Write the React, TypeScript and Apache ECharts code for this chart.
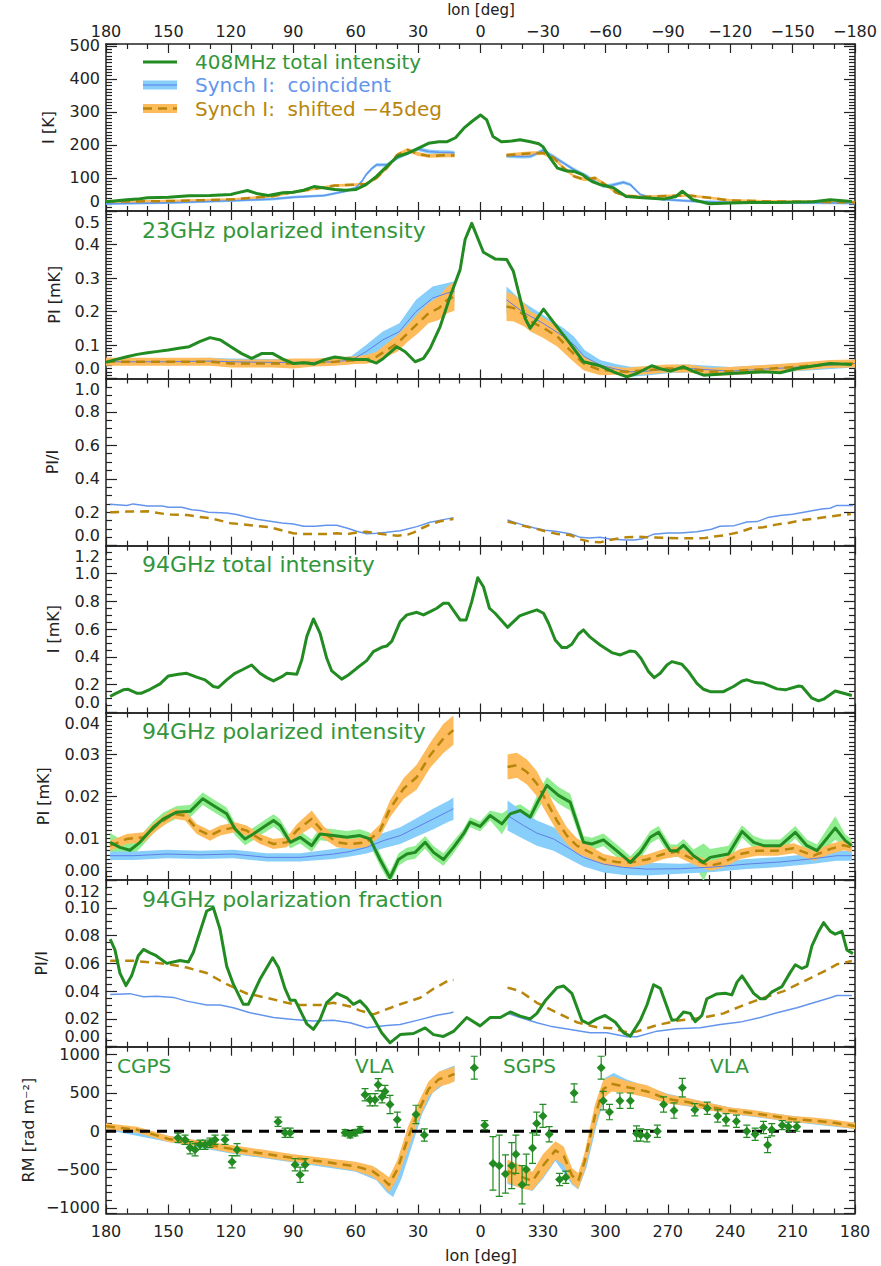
import React, { useEffect, useRef } from "react";
import * as echarts from "echarts";

// ---------------- DATA ----------------
// Panel 1: 408 MHz total intensity [K]
const p1Green = [[180,28],[175,31],[170,34],[165,36],[160,40],[150,42],[140,46],[130,47],[120,50],[117,55],[112,62],[107,52],[102,47],[95,55],[90,57],[85,63],[80,74],[75,70],[70,65],[65,63],[60,65],[55,80],[50,105],[45,135],[40,165],[35,175],[30,190],[25,205],[20,210],[16,210],[12,222],[8,251],[4,272],[0,291],[-3,276],[-6,226],[-10,210],[-15,212],[-19,216],[-24,210],[-28,204],[-30,195],[-33,165],[-37,130],[-41,122],[-45,120],[-49,110],[-51,100],[-54,88],[-57.5,80],[-61,75],[-64,70],[-70,44],[-78,40],[-88,36],[-94,44],[-97,60],[-102,34],[-106,28],[-110,22],[-120,24],[-130,26],[-144,26],[-160,28],[-168,34],[-178.5,29]];
const p1BlueL = [[180,22,4],[150,25,4],[120,31,4],[100,36,4],[90,42,4],[75,47,4],[65,60,4],[60,70,5],[57,90,5],[55,110,5],[52,130,5],[50,140,5],[45,140,5],[40,160,5],[35,175,5],[30,188,6],[25,180,6],[20,178,6],[15,177,6],[12.5,176,6]];
const p1BlueR = [[-12.5,167,6],[-20,165,6],[-24,166,6],[-30,183,6],[-35,165,6],[-40,145,5],[-45,125,5],[-51,106,5],[-55,90,5],[-59,75,5],[-63,78,5],[-68.7,87,5],[-72,80,5],[-76.8,50,4],[-82,40,4],[-88,35,4],[-104,29,4],[-120,26,4],[-150,25,4],[-180,24,4]];
const p1OrangeL = [[180,28,4],[150,30,4],[120,35,4],[100,45,4],[90,57,4],[80,67,4],[70,77,4],[60,80,4],[55,82,4],[50,100,5],[45,130,5],[40,170,6],[35,185,6],[30,173,6],[25,167,6],[20,168,6],[15,169,6],[12.5,168,6]];
const p1OrangeR = [[-12.5,169,6],[-23,174,6],[-30,176,6],[-35,162,6],[-40,130,5],[-45,105,5],[-50,95,5],[-55,100,5],[-60,80,5],[-65,56,4],[-70,46,4],[-80,43,4],[-90,46,4],[-100,47,4],[-110,40,4],[-120,32,4],[-140,29,4],[-160,28,4],[-180,26,4]];

// Panel 2: 23 GHz polarized intensity [mK]
const p2Green = [[180,0.048],[175,0.057],[170,0.065],[165,0.072],[160,0.077],[155,0.081],[150,0.085],[145,0.09],[140,0.095],[135,0.11],[130,0.122],[125,0.115],[120,0.095],[115,0.075],[110,0.06],[105,0.075],[100,0.075],[95,0.058],[90,0.045],[85,0.047],[80,0.043],[75,0.056],[70,0.064],[65,0.06],[60,0.057],[55,0.057],[50,0.046],[46.7,0.06],[40.2,0.095],[36.2,0.08],[31.4,0.05],[27.4,0.06],[24.2,0.09],[19.4,0.155],[14.6,0.245],[9.8,0.325],[7.4,0.415],[4.2,0.463],[-1.4,0.377],[-7,0.357],[-12.6,0.355],[-15.8,0.32],[-21.4,0.18],[-23.9,0.15],[-30.3,0.207],[-36.7,0.155],[-43,0.105],[-49.5,0.05],[-57.5,0.038],[-63.9,0.02],[-70.3,0.005],[-75.1,0.015],[-82.3,0.038],[-86,0.03],[-91.2,0.022],[-97.6,0.035],[-102,0.022],[-107.2,0.01],[-120,0.015],[-136,0.02],[-144,0.017],[-152,0.03],[-168,0.045],[-178.5,0.042]];
const p2BlueL = [[180,0.05,0.01],[150,0.05,0.01],[130,0.052,0.01],[120,0.05,0.01],[100,0.048,0.01],[80,0.048,0.01],[70,0.05,0.01],[62,0.055,0.012],[55,0.08,0.02],[47,0.115,0.025],[39,0.14,0.025],[31,0.2,0.035],[23,0.24,0.035],[16,0.255,0.03],[12.5,0.26,0.03]];
const p2BlueR = [[-12.5,0.235,0.04],[-20,0.2,0.03],[-30,0.165,0.025],[-40,0.125,0.025],[-45,0.1,0.025],[-50,0.065,0.02],[-57.5,0.04,0.015],[-65,0.028,0.015],[-72,0.02,0.015],[-80,0.022,0.013],[-90,0.028,0.012],[-100,0.03,0.012],[-120,0.022,0.012],[-150,0.033,0.012],[-180,0.045,0.012]];
const p2OrangeL = [[180,0.05,0.012],[160,0.05,0.012],[140,0.05,0.012],[130,0.05,0.012],[120,0.045,0.012],[100,0.045,0.012],[90,0.045,0.015],[80,0.048,0.012],[70,0.05,0.012],[60,0.055,0.012],[55,0.057,0.013],[50,0.065,0.015],[45,0.085,0.02],[40,0.105,0.025],[35,0.135,0.025],[30,0.165,0.03],[25,0.195,0.03],[20,0.21,0.035],[16,0.235,0.04],[12.5,0.245,0.043]];
const p2OrangeR = [[-12.5,0.215,0.043],[-16,0.21,0.04],[-21,0.19,0.035],[-24,0.17,0.03],[-30,0.152,0.03],[-37,0.125,0.03],[-43,0.085,0.025],[-49.5,0.045,0.02],[-57.5,0.025,0.015],[-64,0.023,0.012],[-70,0.02,0.012],[-80,0.025,0.012],[-90,0.03,0.012],[-100,0.03,0.012],[-110,0.02,0.012],[-120,0.022,0.012],[-136,0.028,0.012],[-152,0.035,0.012],[-168,0.043,0.012],[-180,0.045,0.012]];

// Panel 3: 23 GHz PI/I
const p3BlueL = [[178,0.248],[170,0.24],[167,0.25],[160,0.237],[153,0.237],[150,0.23],[143.6,0.23],[138.8,0.215],[134.8,0.21],[130.8,0.2],[122,0.196],[117.2,0.186],[112.4,0.172],[106.8,0.156],[101.1,0.146],[95.5,0.136],[89.9,0.13],[85.1,0.116],[79.5,0.116],[73.9,0.122],[69.1,0.122],[64.3,0.106],[59.5,0.086],[54.7,0.072],[49.9,0.074],[45.1,0.08],[38.6,0.09],[30.6,0.114],[24.2,0.14],[17.8,0.156],[13,0.168]];
const p3BlueR = [[-13,0.154],[-16,0.14],[-20,0.126],[-26,0.106],[-31,0.092],[-36,0.086],[-43,0.072],[-48,0.05],[-52,0.046],[-57.5,0.05],[-62,0.04],[-70,0.034],[-74,0.034],[-78,0.042],[-83,0.068],[-90,0.076],[-96,0.076],[-104,0.084],[-111,0.098],[-115,0.116],[-122,0.12],[-128,0.142],[-133,0.144],[-138,0.168],[-144,0.18],[-150,0.188],[-158,0.206],[-164,0.22],[-168,0.224],[-171,0.24],[-179,0.24]];
const p3OrangeL = [[178,0.2],[170,0.204],[160,0.206],[152,0.19],[149,0.186],[141,0.184],[136,0.174],[130,0.164],[125,0.15],[120,0.134],[116,0.13],[106,0.116],[101,0.11],[95,0.09],[90,0.074],[85,0.07],[80,0.07],[74,0.07],[69,0.074],[64,0.07],[59,0.08],[55,0.084],[50,0.074],[45,0.066],[40,0.06],[35,0.066],[32,0.08],[28,0.106],[23.4,0.13],[19.4,0.146],[13,0.16]];
const p3OrangeR = [[-13,0.144],[-16,0.136],[-20,0.12],[-26,0.104],[-31,0.086],[-37,0.07],[-43,0.064],[-48,0.038],[-52,0.026],[-57.5,0.02],[-62,0.034],[-70,0.05],[-75,0.054],[-80,0.05],[-90,0.046],[-100,0.044],[-108,0.046],[-112,0.054],[-118,0.064],[-124,0.08],[-130,0.104],[-136,0.11],[-142,0.126],[-148,0.136],[-155,0.154],[-162,0.164],[-170,0.178],[-178,0.19]];

// Panel 4: 94 GHz total intensity [mK]
const p4Green = [[178,0.115],[175.7,0.134],[171.7,0.163],[169.3,0.167],[165.3,0.139],[162.9,0.139],[158.8,0.167],[154,0.206],[150,0.263],[145.2,0.275],[141.2,0.282],[136.4,0.254],[132.4,0.235],[128.4,0.187],[126,0.18],[122,0.235],[118,0.282],[114,0.311],[110,0.342],[106,0.282],[102.7,0.251],[99.5,0.227],[95.5,0.258],[93.1,0.282],[88.3,0.275],[85.9,0.378],[83.5,0.546],[80.3,0.673],[77.1,0.57],[73.9,0.39],[71.5,0.299],[66.7,0.24],[63.5,0.27],[59.5,0.318],[54.7,0.373],[51.5,0.438],[47.5,0.469],[45.1,0.478],[42.6,0.514],[38.6,0.654],[35.4,0.702],[30.6,0.721],[27.4,0.702],[24.2,0.726],[21,0.75],[17.8,0.786],[15.4,0.786],[9.8,0.666],[6.9,0.666],[4.2,0.798],[1.3,0.97],[-1.4,0.905],[-4.3,0.75],[-7,0.714],[-13,0.613],[-18.8,0.695],[-23.1,0.719],[-27.1,0.738],[-30.3,0.714],[-32.7,0.642],[-35.9,0.522],[-39.1,0.467],[-41.5,0.467],[-43.9,0.491],[-47.1,0.565],[-49.5,0.594],[-52.7,0.542],[-57.5,0.486],[-63.1,0.431],[-67.2,0.414],[-72,0.443],[-74.4,0.438],[-77.1,0.39],[-80.8,0.294],[-83.5,0.251],[-86.4,0.282],[-89.6,0.342],[-92,0.366],[-96.8,0.347],[-100,0.294],[-104,0.21],[-107.2,0.167],[-110.4,0.15],[-116.8,0.15],[-121.6,0.187],[-125.7,0.227],[-128.1,0.235],[-132.1,0.215],[-136.1,0.21],[-142.5,0.17],[-146.5,0.163],[-152.9,0.191],[-154.5,0.187],[-159.3,0.103],[-162.5,0.084],[-164.9,0.096],[-170.5,0.155],[-174.5,0.139],[-178.5,0.122]];

// Panel 5: 94 GHz polarized intensity [mK]  (lon, value, half-width)
const p5Green = [[178,0.009,0.0022],[173.3,0.0078,0.002],[168.5,0.0071,0.0018],[163.7,0.009,0.0015],[157.2,0.0126,0.0015],[152.4,0.0146,0.0015],[146,0.0162,0.0015],[139.6,0.0164,0.0015],[133.5,0.0194,0.0015],[128.4,0.0178,0.0015],[122,0.0158,0.0015],[118,0.0122,0.0015],[113.2,0.0098,0.0015],[109.2,0.011,0.0015],[104.4,0.0126,0.0015],[99.5,0.0142,0.0015],[96.3,0.013,0.0015],[91.5,0.009,0.0015],[86.7,0.0102,0.0015],[81.1,0.0082,0.0015],[77.1,0.011,0.0015],[70.7,0.0106,0.0015],[64.3,0.0102,0.0015],[57.9,0.0106,0.0015],[53.1,0.0098,0.0015],[48.3,0.0049,0.0015],[43.5,0.0005,0.0015],[39.4,0.0049,0.0015],[35.4,0.0062,0.0015],[31.4,0.0066,0.0015],[26.6,0.009,0.0015],[22.6,0.0066,0.0015],[17.8,0.0049,0.0015],[13,0.0078,0.0015],[8.2,0.011,0.0012],[5,0.0138,0.0012],[0.2,0.0128,0.0012],[-4.6,0.0154,0.0012],[-10.3,0.0134,0.0025],[-14.3,0.0158,0.0015],[-19.1,0.0166,0.0015],[-23.9,0.015,0.0015],[-27.9,0.019,0.002],[-31.9,0.0226,0.002],[-37.5,0.0202,0.002],[-43.1,0.0186,0.002],[-49.5,0.009,0.0015],[-53.5,0.0086,0.0015],[-59.1,0.0096,0.0015],[-66.4,0.0066,0.0015],[-72,0.0042,0.0015],[-76.8,0.0066,0.0015],[-81.6,0.0102,0.0015],[-85.6,0.0114,0.0015],[-91.2,0.007,0.0015],[-94.4,0.007,0.0015],[-97.6,0.0083,0.0015],[-102.4,0.0058,0.0015],[-107.2,0.0042,0.0045],[-110.4,0.0054,0.002],[-119.2,0.0062,0.002],[-125.7,0.0116,0.0015],[-131.3,0.009,0.0015],[-136.1,0.0082,0.0015],[-144.1,0.0082,0.0015],[-151.3,0.0114,0.0015],[-156.9,0.0082,0.0015],[-161.7,0.007,0.0015],[-170.5,0.0124,0.0028],[-175.3,0.0094,0.0015],[-178.5,0.0082,0.0015]];
const p5BlueL = [[178,0.0058,0.001],[166.9,0.0058,0.001],[150.8,0.0062,0.001],[134.8,0.006,0.001],[118.8,0.0062,0.001],[102.7,0.0054,0.001],[86.7,0.0054,0.001],[70.7,0.0062,0.0012],[62.7,0.0068,0.0012],[54.7,0.0078,0.0015],[46.7,0.0094,0.0018],[38.6,0.0106,0.002],[30.6,0.0126,0.0022],[22.6,0.0146,0.0025],[15.4,0.0164,0.0025],[13,0.017,0.0027]];
const p5BlueR = [[-13,0.0154,0.0036],[-20.7,0.013,0.0032],[-27.1,0.0112,0.003],[-35.1,0.0098,0.0028],[-43.1,0.0074,0.0025],[-49.5,0.0054,0.0022],[-59.1,0.0038,0.002],[-68.8,0.003,0.0018],[-80,0.0026,0.0015],[-96,0.0027,0.0012],[-112,0.0031,0.0012],[-128,0.0038,0.0012],[-144,0.0043,0.0012],[-160,0.0051,0.0012],[-171.3,0.0058,0.0012],[-178.5,0.0058,0.0012]];
const p5OrangeL = [[178,0.0082,0.0012],[170,0.0098,0.0012],[162,0.0102,0.0012],[155.6,0.013,0.0012],[147.6,0.0158,0.0012],[142,0.0154,0.0012],[136.4,0.0122,0.0012],[130,0.0106,0.0012],[125.2,0.0118,0.0012],[118,0.0126,0.0012],[112.4,0.0118,0.0012],[106,0.0098,0.0012],[99.5,0.0086,0.0012],[93.1,0.009,0.0012],[88.3,0.0118,0.0015],[81.1,0.0146,0.002],[75.5,0.0114,0.0015],[69.1,0.009,0.0012],[62.7,0.0086,0.0012],[54.7,0.009,0.0012],[48.3,0.0118,0.0015],[43.5,0.017,0.002],[37,0.0218,0.0025],[30.6,0.0246,0.003],[24.2,0.0298,0.003],[17.8,0.0338,0.0035],[13,0.0358,0.0035]];
const p5OrangeR = [[-13,0.027,0.003],[-17.5,0.0274,0.003],[-22.3,0.0258,0.003],[-27.1,0.023,0.003],[-31.9,0.0186,0.0028],[-36.7,0.0142,0.0025],[-41.5,0.0106,0.002],[-46.3,0.0082,0.0018],[-52.7,0.0066,0.0015],[-59.1,0.0049,0.0013],[-65.5,0.0043,0.0012],[-72,0.0042,0.0012],[-80,0.0049,0.0012],[-88,0.0062,0.0012],[-94.4,0.0068,0.0012],[-102.4,0.0049,0.0012],[-110.4,0.0034,0.0012],[-116.8,0.0042,0.0012],[-124.8,0.0062,0.0012],[-132.9,0.007,0.0012],[-142.5,0.007,0.0012],[-150.5,0.0076,0.0012],[-160.1,0.0058,0.0012],[-168.1,0.0074,0.0012],[-174.5,0.0083,0.0012],[-178.5,0.0078,0.0012]];

// Panel 6: 94 GHz polarization fraction
const p6Green = [[178,0.0775],[175.7,0.0697],[173.3,0.053],[170.4,0.044],[167.7,0.051],[164.5,0.0655],[162,0.07],[158.8,0.0676],[156.4,0.066],[150.8,0.06],[144.4,0.062],[140.4,0.061],[138,0.068],[131.6,0.0977],[128.4,0.1],[125.2,0.0845],[122,0.058],[118.8,0.045],[114,0.0305],[111.6,0.0305],[106,0.0485],[99.9,0.064],[97.1,0.057],[94,0.042],[91.5,0.0335],[89.1,0.0335],[83.5,0.0165],[80.3,0.0125],[77.1,0.0197],[73.9,0.0317],[69.1,0.0384],[64.3,0.0352],[61.1,0.0305],[57.9,0.033],[54.7,0.028],[51.5,0.0207],[47.5,0.01],[43.5,0.0028],[38.6,0.0087],[32.2,0.0095],[26.6,0.0135],[22.6,0.0087],[17.8,0.0074],[13,0.011],[6.6,0.021],[0.2,0.015],[-4.6,0.021],[-9.5,0.021],[-14.3,0.025],[-19.1,0.022],[-23.9,0.02],[-27.1,0.024],[-31.1,0.033],[-36.7,0.0425],[-39.9,0.0437],[-43.9,0.0384],[-48.7,0.019],[-51.9,0.0165],[-55.9,0.02],[-59.9,0.0225],[-64.8,0.0176],[-68.8,0.01],[-72,0.0076],[-76.8,0.019],[-80,0.03],[-83.2,0.0446],[-86.4,0.042],[-92,0.019],[-94.4,0.0195],[-97.6,0.025],[-100.8,0.024],[-103.2,0.018],[-106.4,0.0225],[-108.8,0.0345],[-113.6,0.038],[-117.6,0.0385],[-120.8,0.0373],[-123.3,0.0465],[-125.7,0.051],[-131.3,0.0384],[-134.5,0.0345],[-136.9,0.0345],[-140.1,0.0395],[-144.9,0.0433],[-148.9,0.0535],[-151.3,0.059],[-154.5,0.0563],[-156.9,0.058],[-159.3,0.0725],[-162.5,0.083],[-164.9,0.0893],[-168.1,0.083],[-170.5,0.081],[-173.7,0.083],[-176.1,0.0697],[-179,0.067]];
const p6BlueL = [[178,0.0375],[168.5,0.0382],[162,0.036],[155.6,0.0363],[147.6,0.0355],[141.2,0.0328],[131.6,0.03],[125.2,0.03],[118.8,0.028],[110.8,0.0245],[99.5,0.021],[89.9,0.0195],[80.3,0.0185],[70.7,0.019],[62.7,0.0172],[54.7,0.0136],[45.1,0.0153],[38.6,0.016],[29,0.0195],[21,0.0226],[14.6,0.0243],[13,0.025]];
const p6BlueR = [[-13,0.024],[-19.1,0.021],[-27.1,0.0172],[-33.5,0.0148],[-43.1,0.0124],[-52.7,0.01],[-60.7,0.01],[-70.4,0.0072],[-75.2,0.0072],[-84.8,0.0112],[-94.4,0.013],[-105.6,0.0136],[-115.2,0.016],[-124.8,0.0177],[-134.5,0.021],[-142.5,0.0245],[-152.1,0.028],[-160.1,0.0316],[-168.1,0.0352],[-171.3,0.0369],[-178.5,0.0369]];
const p6OrangeL = [[178,0.0618],[166.9,0.0618],[150.8,0.0596],[141.2,0.057],[131.6,0.053],[122,0.045],[112.4,0.0383],[102.7,0.0352],[93.1,0.0316],[86.7,0.03],[77.1,0.03],[70.7,0.0316],[62.7,0.029],[57.9,0.026],[51.5,0.0233],[46.7,0.026],[38.6,0.0306],[29,0.0352],[22.6,0.0417],[14.6,0.0483],[13,0.048]];
const p6OrangeR = [[-13,0.0425],[-19.1,0.04],[-27.1,0.0316],[-36.7,0.0245],[-46.3,0.0176],[-55.9,0.014],[-63.1,0.0133],[-70.4,0.0104],[-75.2,0.011],[-84.8,0.0155],[-94.4,0.0186],[-107.2,0.021],[-116.8,0.024],[-126.5,0.03],[-136.1,0.0352],[-145.7,0.04],[-155.3,0.047],[-164.9,0.054],[-171.3,0.0593],[-178.5,0.0617]];

// Panel 7: rotation measure [rad m^-2]  (lon, value, half-width)
const p7OrangeL = [[180,65,40],[165,20,40],[150,-100,40],[135,-160,40],[120,-230,50],[105,-290,50],[90,-350,50],[75,-400,50],[60,-460,60],[52,-520,70],[47,-620,80],[44,-700,100],[40,-500,120],[35,-100,150],[30,250,120],[25,550,100],[20,680,100],[15,720,100],[12.5,750,100]];
const p7OrangeR = [[-13,-520,150],[-20,-600,150],[-25,-650,120],[-30,-450,150],[-36,-250,120],[-40,-320,120],[-44,-580,100],[-47,-650,100],[-50,-400,120],[-55,200,150],[-59,550,120],[-63,620,100],[-70,580,80],[-80,520,80],[-90,420,60],[-100,380,50],[-110,320,50],[-120,270,40],[-130,240,40],[-140,200,40],[-150,160,40],[-160,140,40],[-170,110,40],[-180,70,40]];
const p7BlueL = [[180,60,40],[150,-100,40],[120,-240,50],[90,-360,50],[60,-470,60],[50,-560,80],[45,-700,100],[42,-780,80],[38,-500,120],[33,-50,150],[28,350,120],[23,600,100],[18,700,100],[12.5,760,100]];
const p7BlueR = [[-13,-540,150],[-25,-660,120],[-30,-470,150],[-36,-270,120],[-44,-600,100],[-47,-660,100],[-51,-350,120],[-56,250,150],[-60,580,120],[-64,660,100],[-70,600,80],[-90,430,60],[-120,270,40],[-150,160,40],[-180,70,40]];
// lon, RM, RM error, lon error
const rmPoints = [[145.4,-85,60,2],[142,-111,60,2],[139.6,-216,80,2],[137.2,-242,80,2],[134.8,-176,60,2],[132.4,-176,60,2],[130,-150,60,2],[127.6,-111,60,2],[122.8,-111,60,2],[119.4,-399,80,2],[117,-242,80,2],[97.3,124,60,2],[93.9,-20,60,2],[91.5,-20,60,2],[89.1,-438,80,2],[86.7,-569,100,2],[84.3,-438,80,2],[65.1,-20,40,1.5],[62.7,-46,40,1.5],[60.3,-20,40,1.5],[57.9,20,40,1.5],[55.5,477,80,1.5],[53.1,412,80,1.5],[50.7,412,80,1.5],[49.2,608,80,1.5],[47.3,450,80,1.5],[45.9,520,80,1.5],[43.5,350,120,1.5],[40,150,100,1.5],[31,220,120,1.5],[27,-50,80,1.5],[3,830,150,2],[-2,80,60,1.5],[-6,-420,350,1.5],[-9,-450,400,1.5],[-12,-560,250,1.5],[-15,-450,300,1.5],[-17,-300,250,1.5],[-20,-700,250,1.5],[-22,-500,200,1.5],[-25,-220,200,1.5],[-27,100,150,1.5],[-30,200,150,1.5],[-33,-40,100,1.5],[-38,-630,80,1.5],[-41,-600,80,1.5],[-45,500,120,1.5],[-58,830,150,1.5],[-59,400,120,1.5],[-62,250,100,1.5],[-67,400,100,1.5],[-72,400,100,1.5],[-75,-30,100,1.5],[-77,-50,80,1.5],[-80,-60,80,1.5],[-85,0,80,1.5],[-88,350,100,1.5],[-93,270,100,1.5],[-97,570,120,1.5],[-103,280,80,1.5],[-109,300,80,1.5],[-114,200,80,1.5],[-118,150,80,1.5],[-123,130,80,1.5],[-128,0,80,1.5],[-132,-40,80,1.5],[-136,50,80,1.5],[-138,-180,100,1.5],[-140,20,80,1.5],[-145,80,60,1.5],[-148,60,60,1.5],[-152,60,60,1.5]];

const lonTickStep = 30;

// ---------------- STYLE ----------------
const FONT = "DejaVu Sans";
const AXIS = "#222";
const GREEN = "#228B22";
const GREEN_TXT = "#32963a";
const LGREEN = "#90EE90";
const BLUE = "#6495ED";
const BLUE_DK = "#5f7fe6";
const LBLUE = "#87CEFA";
const ORANGE = "#FDBB5C";
const GOLD = "#B8860B";

const W = 881, H = 1266;
const GRID_LEFT = 106, GRID_RIGHT = 26;
const TOPS = [44, 211, 378.5, 545.7, 712.5, 880, 1046.7, 1213.5];

const minus = (s: string) => s.replace("-", "\u2212");

const yCfg: any[] = [
  { min: 0, max: 506, split: 5, minor: 10, fmt: (v: number) => (Math.abs(v % 100) < 1e-6 ? String(v) : "") },
  { min: 0, max: 0.5, interval: 0.1, minor: 10, fmt: (v: number) => v.toFixed(1) },
  { min: 0, max: 1.0, interval: 0.2, minor: 4, fmt: (v: number) => v.toFixed(1) },
  { min: 0, max: 1.2, interval: 0.2, minor: 4, fmt: (v: number) => v.toFixed(1) },
  { min: 0, max: 0.04, interval: 0.01, minor: 10, fmt: (v: number) => v.toFixed(2) },
  { min: 0, max: 0.12, interval: 0.02, minor: 4, fmt: (v: number) => v.toFixed(2) },
  { min: -1075, max: 1105, split: 4, minor: 5, fmt: (v: number) => (Math.abs(v % 500) < 1e-6 ? minus(String(v)) : "") },
];

const yNames = [
  { t: "I [K]", x: 48 },
  { t: "PI [mK]", x: 54 },
  { t: "PI/I", x: 52 },
  { t: "I [mK]", x: 53 },
  { t: "PI [mK]", x: 43 },
  { t: "PI/I", x: 41 },
  { t: "RM [rad m\u207B\u00B2]", x: 28 },
];

const panelTitles = [
  { i: 1, t: "23GHz polarized intensity" },
  { i: 3, t: "94GHz total intensity" },
  { i: 4, t: "94GHz polarized intensity" },
  { i: 5, t: "94GHz polarization fraction" },
];

function buildOption() {
  const grids: any[] = [];
  const xAxes: any[] = [];
  const yAxes: any[] = [];
  const tickStyle = { color: AXIS, width: 1.2 };
  const labFont = { color: AXIS, fontSize: 16, fontFamily: FONT };
  for (let i = 0; i < 7; i++) {
    grids.push({ left: GRID_LEFT, right: GRID_RIGHT, top: TOPS[i], height: TOPS[i + 1] - TOPS[i] });
    for (const pos of ["bottom", "top"]) {
      const showLab = (pos === "bottom" && i === 6) || (pos === "top" && i === 0);
      xAxes.push({
        gridIndex: i, type: "value", position: pos, min: -180, max: 180, interval: lonTickStep, inverse: true,
        axisLine: { show: true, onZero: false, lineStyle: { color: AXIS, width: 1.5 } },
        axisTick: { show: true, inside: true, length: 9, lineStyle: tickStyle },
        minorTick: { show: true, splitNumber: 3, length: 5, lineStyle: tickStyle },
        splitLine: { show: false },
        axisLabel: {
          show: showLab, ...labFont, margin: pos === "top" ? 5 : 10,
          formatter: (v: number) => pos === "bottom" ? String(v < 0 ? v + 360 : v) : minus(String(v)),
        },
      });
    }
    const c = yCfg[i];
    for (const pos of ["left", "right"]) {
      const ax: any = {
        gridIndex: i, type: "value", position: pos, min: c.min, max: c.max,
        axisLine: { show: true, onZero: false, lineStyle: { color: AXIS, width: 1.5 } },
        axisTick: { show: true, inside: true, length: 11, lineStyle: tickStyle },
        minorTick: { show: true, splitNumber: c.minor, length: 6, lineStyle: tickStyle },
        splitLine: { show: false },
        axisLabel: {
          show: pos === "left", ...labFont, margin: 6,
          formatter: (v: number) => {
            const s = c.fmt(v);
            if (!s) return s;
            if (Math.abs(v - c.min) < 1e-9) return `{lo|${s}}`;
            if (Math.abs(v - c.max) < 1e-9) return `{hi|${s}}`;
            return s;
          },
          rich: {
            lo: { ...labFont, padding: [0, 0, 2, 0] },
            hi: { ...labFont, padding: [3, 0, 0, 0] },
          },
          verticalAlignMinLabel: "bottom", verticalAlignMaxLabel: "top",
        },
      };
      if (c.interval) ax.interval = c.interval; else ax.splitNumber = c.split;
      yAxes.push(ax);
    }
  }

  const series: any[] = [];
  const ax = (i: number) => ({ xAxisIndex: 2 * i, yAxisIndex: 2 * i });
  const line = (i: number, pts: number[][], color: string, width: number, dash: any, z: number) => series.push({
    type: "line", ...ax(i), data: pts.map((p) => [p[0], p[1]]), showSymbol: false, symbol: "none", silent: true, z,
    lineStyle: { color, width, type: dash || "solid", cap: "butt", join: "round" }, clip: true, animation: false,
  });
  const band = (i: number, pts: number[][], color: string, z: number) => series.push({
    type: "custom", ...ax(i), silent: true, z, clip: true, data: [[pts[0][0], pts[0][1]]],
    renderItem: (_p: any, api: any) => {
      const up = pts.map((p) => api.coord([p[0], p[1] + p[2]]));
      const lo = pts.map((p) => api.coord([p[0], p[1] - p[2]])).reverse();
      return { type: "polygon", shape: { points: up.concat(lo) }, style: { fill: color } };
    },
  });
  const DASH = [9, 6];

  // panel 1
  band(0, p1BlueL, LBLUE, 1); band(0, p1BlueR, LBLUE, 1);
  band(0, p1OrangeL, ORANGE, 1); band(0, p1OrangeR, ORANGE, 1);
  line(0, p1BlueL, BLUE, 1.5, null, 2); line(0, p1BlueR, BLUE, 1.5, null, 2);
  line(0, p1OrangeL, GOLD, 2.5, DASH, 3); line(0, p1OrangeR, GOLD, 2.5, DASH, 3);
  line(0, p1Green, GREEN, 3, null, 4);
  // panel 2
  band(1, p2BlueL, LBLUE, 1); band(1, p2BlueR, LBLUE, 1);
  band(1, p2OrangeL, ORANGE, 1); band(1, p2OrangeR, ORANGE, 1);
  line(1, p2BlueL, BLUE_DK, 1, null, 2); line(1, p2BlueR, BLUE_DK, 1, null, 2);
  line(1, p2OrangeL, GOLD, 2.5, DASH, 3); line(1, p2OrangeR, GOLD, 2.5, DASH, 3);
  line(1, p2Green, GREEN, 3, null, 4);
  // panel 3
  line(2, p3BlueL, BLUE, 1.5, null, 2); line(2, p3BlueR, BLUE, 1.5, null, 2);
  line(2, p3OrangeL, GOLD, 2.5, DASH, 3); line(2, p3OrangeR, GOLD, 2.5, DASH, 3);
  // panel 4
  line(3, p4Green, GREEN, 3, null, 4);
  // panel 5
  band(4, p5Green, LGREEN, 1);
  band(4, p5BlueL, LBLUE, 1); band(4, p5BlueR, LBLUE, 1);
  band(4, p5OrangeL, ORANGE, 1); band(4, p5OrangeR, ORANGE, 1);
  line(4, p5BlueL, BLUE_DK, 1, null, 2); line(4, p5BlueR, BLUE_DK, 1, null, 2);
  line(4, p5OrangeL, GOLD, 2.5, DASH, 3); line(4, p5OrangeR, GOLD, 2.5, DASH, 3);
  line(4, p5Green, GREEN, 3, null, 4);
  // panel 6
  line(5, p6BlueL, BLUE, 1.5, null, 2); line(5, p6BlueR, BLUE, 1.5, null, 2);
  line(5, p6OrangeL, GOLD, 2.5, DASH, 3); line(5, p6OrangeR, GOLD, 2.5, DASH, 3);
  line(5, p6Green, GREEN, 3, null, 4);
  // panel 7
  band(6, p7BlueL, LBLUE, 1); band(6, p7BlueR, LBLUE, 1);
  band(6, p7OrangeL, ORANGE, 1); band(6, p7OrangeR, ORANGE, 1);
  line(6, p7OrangeL, GOLD, 2.5, DASH, 3); line(6, p7OrangeR, GOLD, 2.5, DASH, 3);
  series.push({
    type: "line", ...ax(6), data: [[180, 0], [-180, 0]], showSymbol: false, symbol: "none", silent: true, z: 3,
    lineStyle: { color: "#000", width: 3, type: [10, 7] },
  });
  series.push({
    type: "custom", ...ax(6), silent: true, z: 5, clip: true, data: rmPoints,
    renderItem: (_p: any, api: any) => {
      const lon = api.value(0), rm = api.value(1), e = api.value(2), el = api.value(3);
      const c = api.coord([lon, rm]);
      const t = api.coord([lon, rm + e]);
      const b = api.coord([lon, rm - e]);
      const l = api.coord([lon + el, rm]);
      const r = api.coord([lon - el, rm]);
      const cap = 3.5, s = 4.5;
      const st = { stroke: GREEN, lineWidth: 1.2 };
      return {
        type: "group", children: [
          { type: "line", shape: { x1: t[0], y1: t[1], x2: b[0], y2: b[1] }, style: st },
          { type: "line", shape: { x1: t[0] - cap, y1: t[1], x2: t[0] + cap, y2: t[1] }, style: st },
          { type: "line", shape: { x1: b[0] - cap, y1: b[1], x2: b[0] + cap, y2: b[1] }, style: st },
          { type: "line", shape: { x1: l[0], y1: l[1], x2: r[0], y2: r[1] }, style: st },
          { type: "polygon", shape: { points: [[c[0], c[1] - s], [c[0] + s, c[1]], [c[0], c[1] + s], [c[0] - s, c[1]]] }, style: { fill: GREEN } },
        ],
      };
    },
  });

  // graphics
  const g: any[] = [];
  const txt = (x: number, y: number, text: string, color: string, size: number, align = "left", rot = 0) => g.push({
    type: "text", x, y, rotation: rot, silent: true,
    style: { text, fill: color, font: `${size}px "${FONT}"`, textAlign: align, textVerticalAlign: "middle" },
  });
  // axis titles
  txt(481, 10, "lon [deg]", AXIS, 15, "center");
  txt(481, 1255, "lon [deg]", AXIS, 16, "center");
  yNames.forEach((n, i) => txt(n.x, (TOPS[i] + TOPS[i + 1]) / 2, n.t, AXIS, 16, "center", Math.PI / 2));
  // legend
  g.push({ type: "line", shape: { x1: 143, y1: 62, x2: 177, y2: 62 }, style: { stroke: GREEN, lineWidth: 3 } });
  g.push({ type: "rect", shape: { x: 143, y: 80.5, width: 34, height: 9 }, style: { fill: LBLUE } });
  g.push({ type: "line", shape: { x1: 143, y1: 85, x2: 177, y2: 85 }, style: { stroke: BLUE, lineWidth: 1.5 } });
  g.push({ type: "rect", shape: { x: 143, y: 104, width: 34, height: 9 }, style: { fill: ORANGE } });
  g.push({ type: "line", shape: { x1: 143, y1: 108.5, x2: 177, y2: 108.5 }, style: { stroke: GOLD, lineWidth: 2.5, lineDash: [9, 6] } });
  txt(195, 62, "408MHz total intensity", GREEN_TXT, 20);
  txt(195, 85, "Synch I:  coincident", BLUE, 20);
  txt(195, 108.5, "Synch I:  shifted \u221245deg", GOLD, 20);
  // panel titles
  panelTitles.forEach((p) => txt(142, TOPS[p.i] + 19, p.t, GREEN_TXT, 22));
  // RM survey labels
  txt(117, 1066, "CGPS", GREEN_TXT, 20);
  txt(355, 1066, "VLA", GREEN_TXT, 20);
  txt(503, 1066, "SGPS", GREEN_TXT, 20);
  txt(710, 1066, "VLA", GREEN_TXT, 20);

  return {
    animation: false,
    backgroundColor: "#fff",
    grid: grids, xAxis: xAxes, yAxis: yAxes, series, graphic: g,
  };
}

export default function App() {
  const ref = useRef<HTMLDivElement>(null);
  useEffect(() => {
    if (!ref.current) return;
    const chart = echarts.init(ref.current, undefined, { renderer: "svg" });
    chart.setOption(buildOption() as any);
    return () => chart.dispose();
  }, []);
  return <div ref={ref} style={{ position: "absolute", left: 0, top: 0, width: W, height: H, background: "#fff" }} />;
}
